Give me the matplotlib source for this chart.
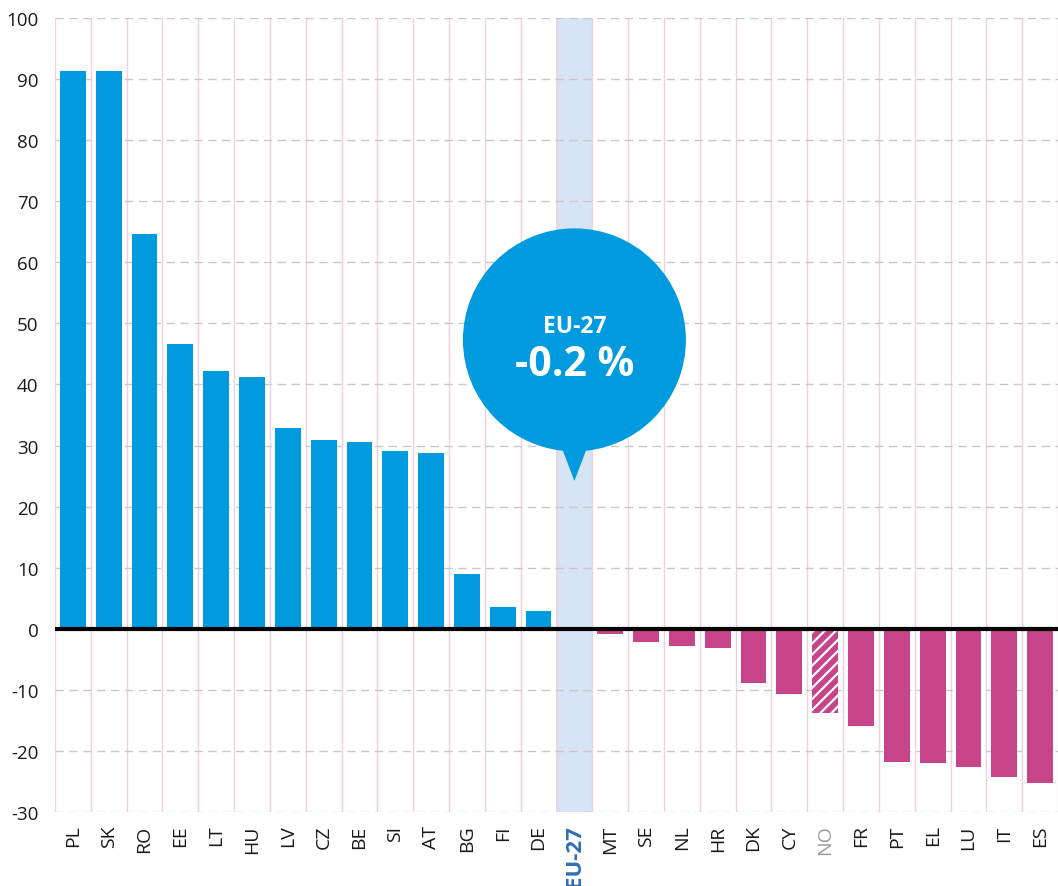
import matplotlib
matplotlib.use("Agg")
import matplotlib.pyplot as plt
from matplotlib.patches import Ellipse, Polygon
import numpy as np

plt.rcParams['font.family'] = ['Open Sans', 'DejaVu Sans']
plt.rcParams['hatch.linewidth'] = 1.6

categories = ["PL", "SK", "RO", "EE", "LT", "HU", "LV", "CZ", "BE", "SI", "AT", "BG", "FI", "DE",
              "EU-27", "MT", "SE", "NL", "HR", "DK", "CY", "NO", "FR", "PT", "EL", "LU", "IT", "ES"]
values = [91.4, 91.4, 64.7, 46.7, 42.2, 41.3, 32.9, 30.9, 30.5, 29.1, 28.7, 9.0, 3.6, 2.9,
          -0.2, -0.8, -2.1, -2.9, -3.1, -8.8, -10.6, -13.8, -16.0, -21.8, -22.0, -22.6, -24.2, -25.2]
hatched_categories = ["NO"]
highlight_category = "EU-27"
bubble_title = "EU-27"
bubble_value = "-0.2 %"
yticks = [-30, -20, -10, 0, 10, 20, 30, 40, 50, 60, 70, 80, 90, 100]

BLUE = "#009ade"
MAGENTA = "#c7448a"

fig = plt.figure(figsize=(10.58, 8.87), dpi=100)
ax = fig.add_axes([55/1058, 1-813/887, 1003/1058, (813-19)/887])

x = np.arange(len(categories))
colors = [BLUE if v >= 0 else MAGENTA for v in values]
hi = categories.index(highlight_category)

ax.axvspan(hi - 0.52, hi + 0.52, color="#d6e4f5", zorder=0.5, lw=0)

# vertical pink separators
for b in np.arange(-0.5, len(categories) + 0.5, 1.0):
    ax.axvline(b, color="#efcfe0", lw=1.0, zorder=0.6)
# horizontal dashed grid
for t in yticks:
    ax.axhline(t, color="#c8c8c8", lw=1.0, ls=(0, (6, 4)), zorder=0.7)

bars = ax.bar(x, values, width=0.72, color=colors, zorder=2, lw=0)
for b, c in zip(bars, categories):
    if c in hatched_categories:
        b.set_hatch("///")
        b.set_edgecolor("white")
        b.set_linewidth(0)

ax.axhline(0, color="black", lw=3, zorder=3)

ax.set_xlim(-0.5, len(categories) - 0.5)
ax.set_ylim(-30, 100)
ax.set_yticks(yticks)
ax.set_yticklabels([str(t) for t in yticks], fontsize=13.5, color="#1a1a1a")
ax.set_xticks(x)
ax.set_xticklabels(categories, rotation=90, fontsize=14, color="#1a1a1a")
ax.tick_params(axis="y", length=0, pad=12)
ax.tick_params(axis="x", length=0, pad=9)
for lab in ax.get_xticklabels():
    if lab.get_text() == highlight_category:
        lab.set_color("#2f6db5")
        lab.set_fontweight("bold")
        lab.set_fontsize(16)
    elif lab.get_text() in hatched_categories:
        lab.set_color("#9a9a9a")
for s in ax.spines.values():
    s.set_visible(False)

# speech bubble
ppu_x = 1003 / 28
ppu_y = 794 / 130
cy = 47.3
ell = Ellipse((hi, cy), width=2 * 111.5 / ppu_x, height=2 * 111.5 / ppu_y,
              facecolor=BLUE, edgecolor="none", zorder=5)
ax.add_patch(ell)
tri = Polygon([[hi - 17 / ppu_x, 31.5], [hi + 17 / ppu_x, 31.5], [hi, 24.2]],
              closed=True, facecolor=BLUE, edgecolor="none", zorder=5)
ax.add_patch(tri)
ax.text(hi, (630 - 327) / ppu_y, bubble_title, color="white", fontsize=16.5, fontweight="bold",
        ha="center", va="center", zorder=6)
ax.text(hi, (630 - 366) / ppu_y, bubble_value, color="white", fontsize=29.5, fontweight="bold",
        ha="center", va="center", zorder=6)

fig.savefig("out.png", dpi=100)
